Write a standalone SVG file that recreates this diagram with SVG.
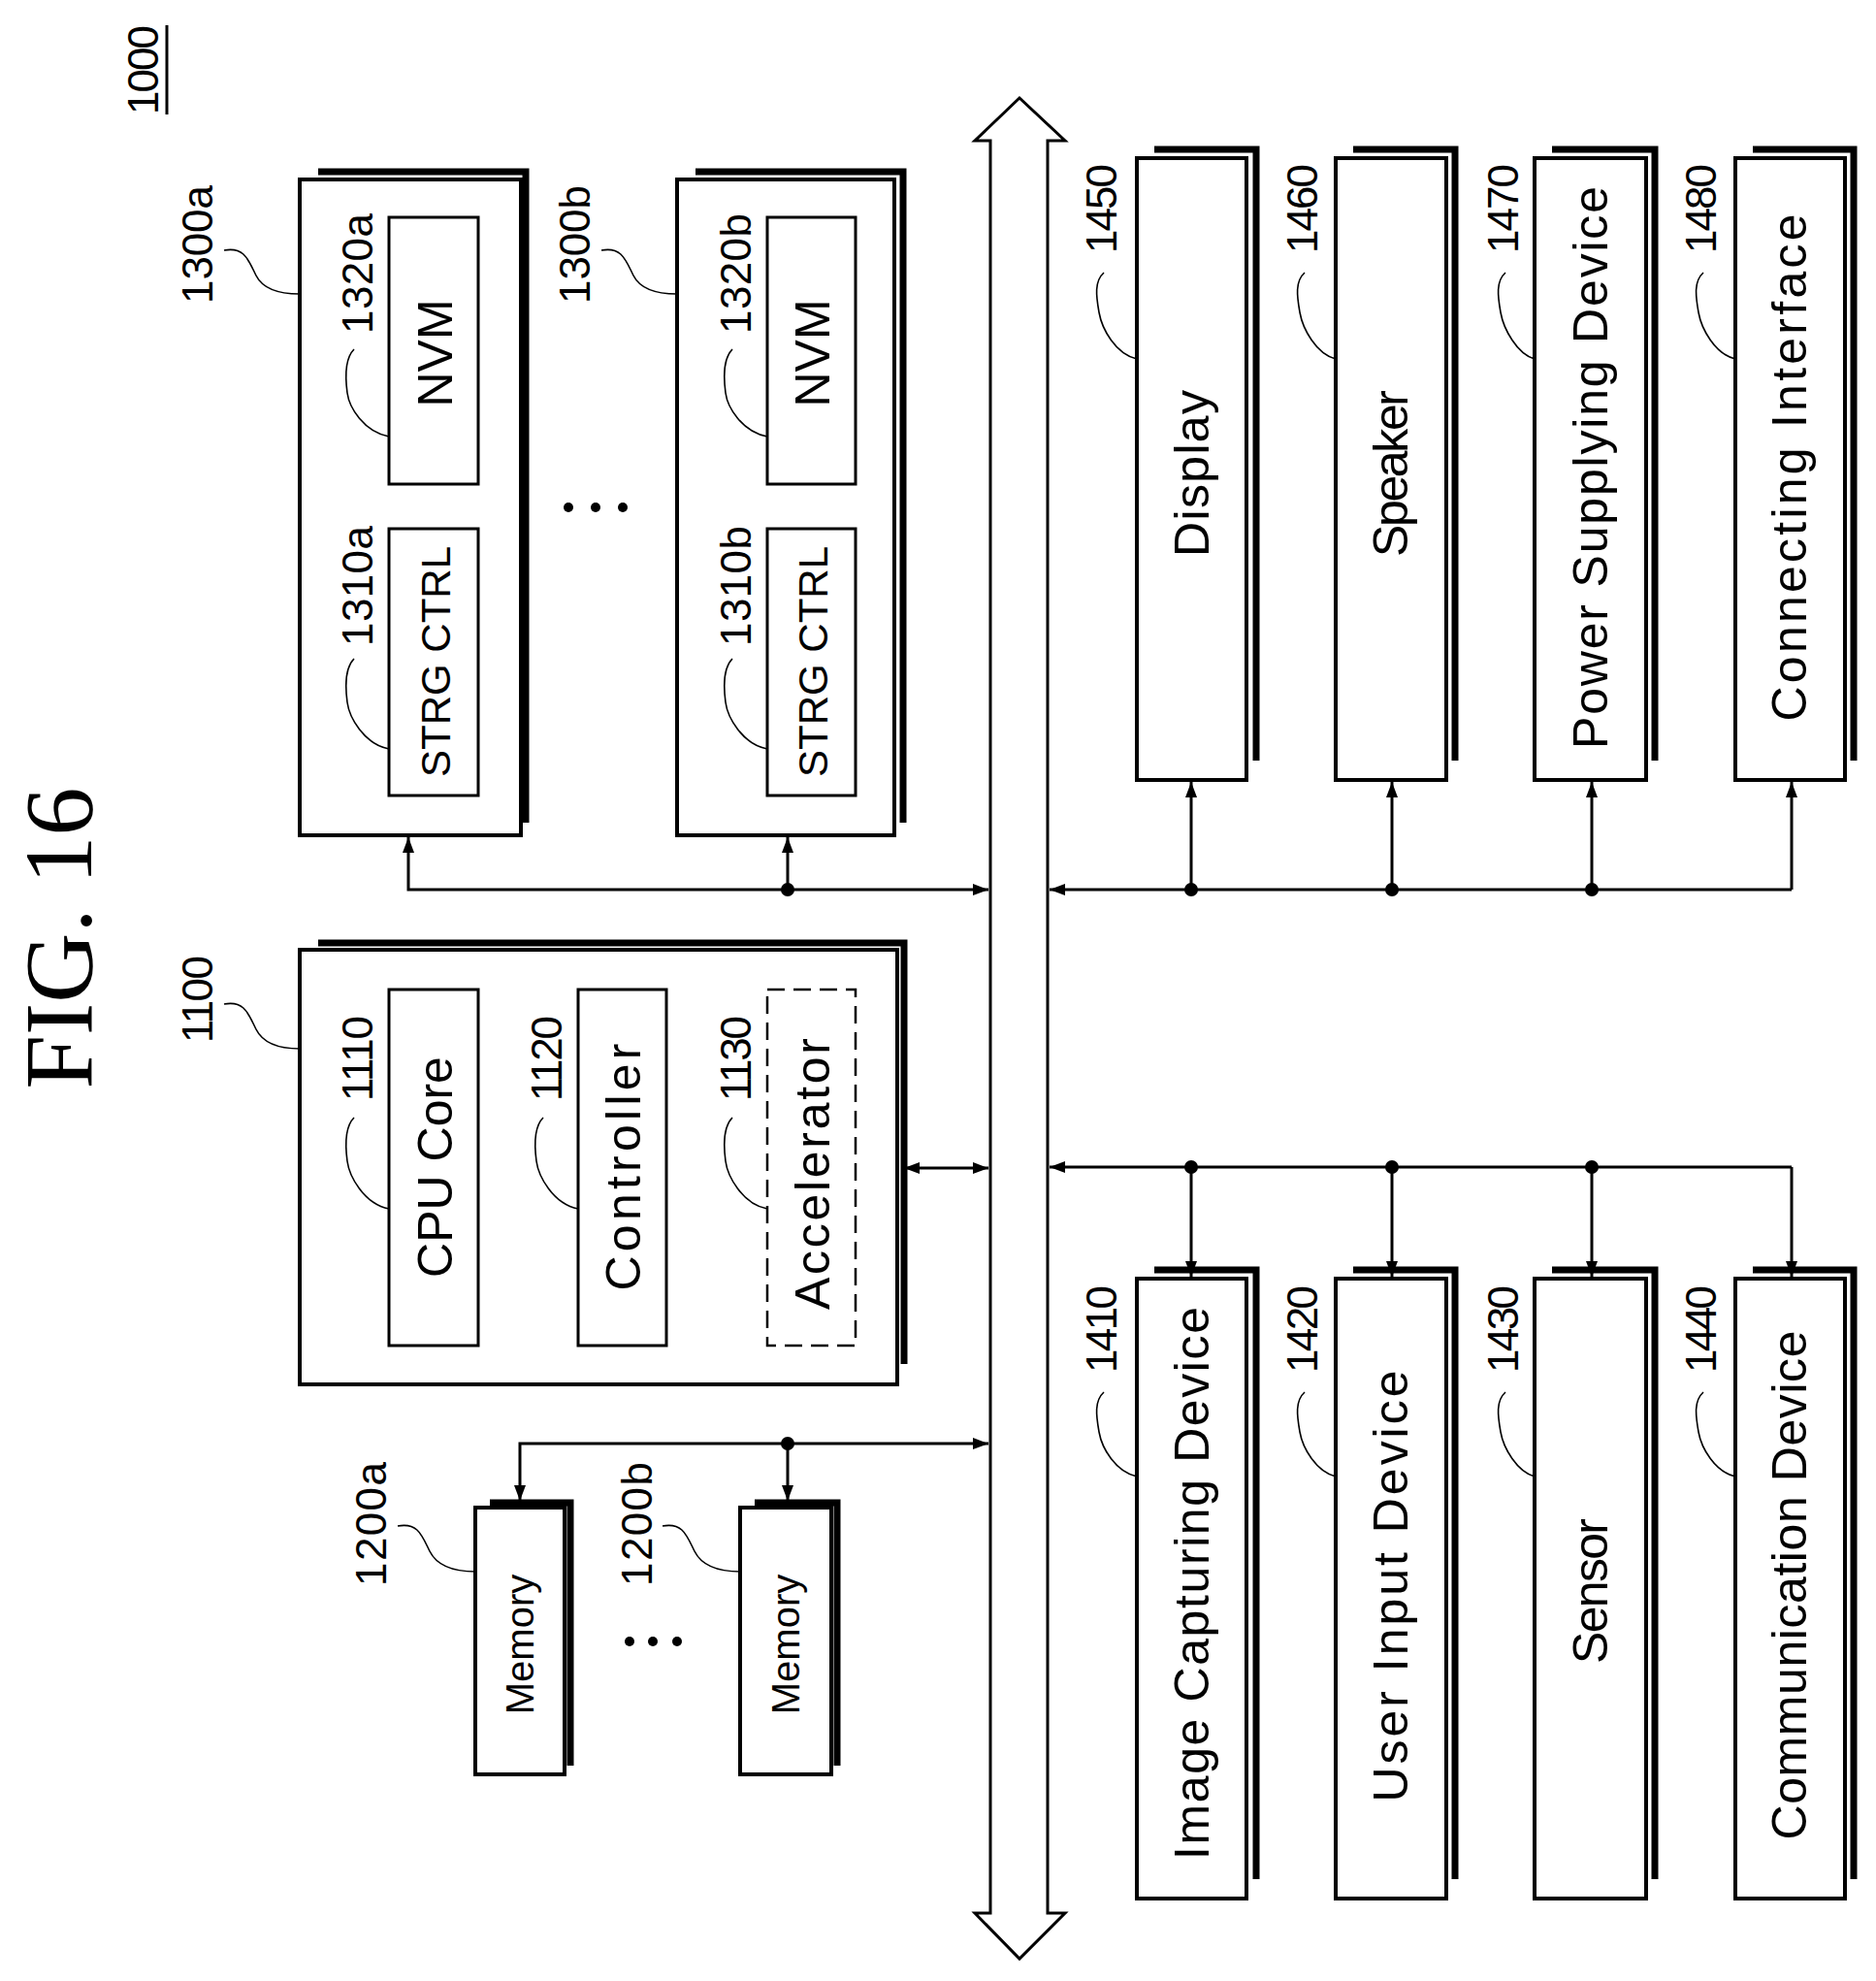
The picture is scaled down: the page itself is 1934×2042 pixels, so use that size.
<svg xmlns="http://www.w3.org/2000/svg" width="1934" height="2042" viewBox="0 0 1934 2042">
<style>
.box{fill:#fff;stroke:#000;stroke-width:4}
.sh{fill:none;stroke:#000;stroke-width:7}
.in{fill:#fff;stroke:#000;stroke-width:3}
.dash{fill:#fff;stroke:#000;stroke-width:2.5;stroke-dasharray:18 9}
.t{font-family:"Liberation Sans",Arial,sans-serif;font-size:50px;text-anchor:middle;dominant-baseline:central}
.n{font-family:"Liberation Sans",Arial,sans-serif;font-size:44px;text-anchor:middle;dominant-baseline:central}
.ld{fill:none;stroke:#000;stroke-width:1.6}
.c{fill:none;stroke:#000;stroke-width:3}
</style>
<defs>
<marker id="a" markerUnits="userSpaceOnUse" markerWidth="16" markerHeight="12" refX="16" refY="6" orient="auto-start-reverse"><path d="M0,0 L16,6 L0,12 z" fill="#000"/></marker>
</defs>
<rect width="1934" height="2042" fill="#fff"/>
<text transform="translate(60,967) rotate(-90)" font-family="'Liberation Serif',serif" font-size="100" text-anchor="middle" dominant-baseline="central">FIG. 16</text>
<g id="label1000"><text class="n" transform="translate(147,72) rotate(-90)" textLength="92">1000</text><line x1="172" y1="26" x2="172" y2="118" stroke="#000" stroke-width="3"/></g>
<g id="bus"><path d="M1021,145 L1005,145 L1051,101 L1098,145 L1080,145 L1080,1972 L1098,1972 L1051,2019 L1005,1972 L1021,1972 Z" fill="#fff" stroke="#000" stroke-width="3"/></g>

<g id="n1300a">
<path class="sh" d="M328,177 H542 V848"/><rect class="box" x="309" y="185" width="228" height="676"/>
<text class="n" transform="translate(203,252) rotate(-90)" textLength="122">1300a</text>
<path class="ld" d="M231,258 C252,254 256,268 264,284 S292,303 309,303"/>
<rect class="in" x="401" y="224" width="92" height="275"/><text class="t" transform="translate(449,364) rotate(-90)">NVM</text>
<text class="n" transform="translate(368,282) rotate(-90)" textLength="124">1320a</text>
<path class="ld" d="M365,360 C355,370 356,390 358,405 S375,445 401,450"/>
<rect class="in" x="401" y="545" width="92" height="275"/><text class="t" transform="translate(449,682) rotate(-90)" style="font-size:42px">STRG CTRL</text>
<text class="n" transform="translate(368,604) rotate(-90)" textLength="124">1310a</text>
<path class="ld" d="M365,679 C355,689 356,709 358,724 S375,767 401,772"/>
</g>
<g id="dots1"><circle cx="586" cy="523" r="5"/><circle cx="614" cy="523" r="5"/><circle cx="642" cy="523" r="5"/></g>
<g id="n1300b">
<path class="sh" d="M717,177 H931 V848"/><rect class="box" x="698" y="185" width="224" height="676"/>
<text class="n" transform="translate(592,252) rotate(-90)" textLength="122">1300b</text>
<path class="ld" d="M620,258 C641,254 645,268 653,284 S681,303 698,303"/>
<rect class="in" x="791" y="224" width="91" height="275"/><text class="t" transform="translate(838,364) rotate(-90)">NVM</text>
<text class="n" transform="translate(758,282) rotate(-90)" textLength="124">1320b</text>
<path class="ld" d="M755,360 C745,370 746,390 748,405 S765,445 791,450"/>
<rect class="in" x="791" y="545" width="91" height="275"/><text class="t" transform="translate(838,682) rotate(-90)" style="font-size:42px">STRG CTRL</text>
<text class="n" transform="translate(758,604) rotate(-90)" textLength="124">1310b</text>
<path class="ld" d="M755,679 C745,689 746,709 748,724 S765,767 791,772"/>
</g>
<g id="n1100">
<path class="sh" d="M328,972 H932 V1406"/><rect class="box" x="309" y="979" width="616" height="448"/>
<text class="n" transform="translate(203,1030) rotate(-90)" textLength="90">1100</text>
<path class="ld" d="M231,1035 C252,1031 256,1045 264,1061 S292,1081 309,1081"/>
<rect class="in" x="401" y="1020" width="92" height="367"/><text class="t" transform="translate(449,1203) rotate(-90)">CPU Core</text>
<text class="n" transform="translate(368,1091) rotate(-90)" textLength="88">1110</text>
<path class="ld" d="M365,1152 C355,1162 356,1182 358,1197 S375,1241 401,1246"/>
<rect class="in" x="596" y="1020" width="91" height="367"/><text class="t" transform="translate(643,1203) rotate(-90)" textLength="255">Controller</text>
<text class="n" transform="translate(563,1091) rotate(-90)" textLength="88">1120</text>
<path class="ld" d="M560,1152 C550,1162 551,1182 553,1197 S570,1241 596,1246"/>
<rect class="dash" x="791" y="1020" width="91" height="367"/><text class="t" transform="translate(838,1210) rotate(-90)" textLength="280">Accelerator</text>
<text class="n" transform="translate(758,1091) rotate(-90)" textLength="88">1130</text>
<path class="ld" d="M755,1152 C745,1162 746,1182 748,1197 S765,1241 791,1246"/>
</g>
<g id="n1200a">
<path class="sh" d="M505,1549 H588 V1820"/><rect class="box" x="490" y="1554" width="92" height="275"/>
<text class="t" transform="translate(536,1695) rotate(-90)" style="font-size:40px">Memory</text>
<text class="n" transform="translate(382,1571) rotate(-90)" textLength="128">1200a</text>
<path class="ld" d="M410,1573 C431,1569 435,1583 443,1599 S471,1620 490,1620"/>
</g>
<g id="dots2"><circle cx="649" cy="1692" r="5"/><circle cx="673" cy="1692" r="5"/><circle cx="698" cy="1692" r="5"/></g>
<g id="n1200b">
<path class="sh" d="M778,1549 H863 V1820"/><rect class="box" x="763" y="1554" width="94" height="275"/>
<text class="t" transform="translate(810,1695) rotate(-90)" style="font-size:40px">Memory</text>
<text class="n" transform="translate(656,1571) rotate(-90)" textLength="128">1200b</text>
<path class="ld" d="M683,1573 C704,1569 708,1583 716,1599 S744,1620 763,1620"/>
</g>

<g id="n1450"><path class="sh" d="M1190,154 H1295 V784"/><rect class="box" x="1172" y="163" width="113" height="641"/>
<text class="t" transform="translate(1229,488) rotate(-90)" textLength="172">Display</text>
<text class="n" transform="translate(1135,215) rotate(-90)" textLength="92">1450</text>
<path class="ld" d="M1138,281 C1128,290 1130,305 1133,322 S1150,365 1172,370"/></g>
<g id="n1460"><path class="sh" d="M1395,154 H1500 V784"/><rect class="box" x="1377" y="163" width="114" height="641"/>
<text class="t" transform="translate(1434,488) rotate(-90)" textLength="172">Speaker</text>
<text class="n" transform="translate(1342,215) rotate(-90)" textLength="92">1460</text>
<path class="ld" d="M1345,281 C1335,290 1337,305 1340,322 S1357,365 1377,370"/></g>
<g id="n1470"><path class="sh" d="M1600,154 H1706 V784"/><rect class="box" x="1582" y="163" width="115" height="641"/>
<text class="t" transform="translate(1640,482) rotate(-90)" textLength="580">Power Supplying Device</text>
<text class="n" transform="translate(1549,215) rotate(-90)" textLength="92">1470</text>
<path class="ld" d="M1552,281 C1542,290 1544,305 1547,322 S1564,365 1582,370"/></g>
<g id="n1480"><path class="sh" d="M1807,154 H1911 V784"/><rect class="box" x="1789" y="163" width="113" height="641"/>
<text class="t" transform="translate(1845,482) rotate(-90)" textLength="523">Connecting Interface</text>
<text class="n" transform="translate(1753,215) rotate(-90)" textLength="92">1480</text>
<path class="ld" d="M1756,281 C1746,290 1748,305 1751,322 S1768,365 1789,370"/></g>

<g id="n1410"><path class="sh" d="M1190,1309 H1295 V1937"/><rect class="box" x="1172" y="1318" width="113" height="639"/>
<text class="t" transform="translate(1229,1632) rotate(-90)" textLength="570">Image Capturing Device</text>
<text class="n" transform="translate(1135,1370) rotate(-90)" textLength="90">1410</text>
<path class="ld" d="M1138,1435 C1128,1444 1130,1459 1133,1476 S1150,1517 1172,1522"/></g>
<g id="n1420"><path class="sh" d="M1395,1309 H1500 V1937"/><rect class="box" x="1377" y="1318" width="114" height="639"/>
<text class="t" transform="translate(1434,1635) rotate(-90)" textLength="445">User Input Device</text>
<text class="n" transform="translate(1342,1370) rotate(-90)" textLength="90">1420</text>
<path class="ld" d="M1345,1435 C1335,1444 1337,1459 1340,1476 S1357,1517 1377,1522"/></g>
<g id="n1430"><path class="sh" d="M1600,1309 H1706 V1937"/><rect class="box" x="1582" y="1318" width="115" height="639"/>
<text class="t" transform="translate(1640,1640) rotate(-90)" textLength="150">Sensor</text>
<text class="n" transform="translate(1549,1370) rotate(-90)" textLength="90">1430</text>
<path class="ld" d="M1552,1435 C1542,1444 1544,1459 1547,1476 S1564,1517 1582,1522"/></g>
<g id="n1440"><path class="sh" d="M1807,1309 H1911 V1937"/><rect class="box" x="1789" y="1318" width="113" height="639"/>
<text class="t" transform="translate(1845,1634) rotate(-90)" textLength="525">Communication Device</text>
<text class="n" transform="translate(1753,1370) rotate(-90)" textLength="90">1440</text>
<path class="ld" d="M1756,1435 C1746,1444 1748,1459 1751,1476 S1768,1517 1789,1522"/></g>

<g id="connectors">
<path class="c" d="M812,917 H421 V863" marker-end="url(#a)"/>
<path class="c" d="M812,917 H1019" marker-end="url(#a)"/>
<path class="c" d="M812,917 V863" marker-end="url(#a)"/>
<circle cx="812" cy="917" r="7"/>
<path class="c" d="M932,1204 H1019" marker-start="url(#a)" marker-end="url(#a)"/>
<path class="c" d="M812,1488 H1019" marker-end="url(#a)"/>
<path class="c" d="M812,1488 H536 V1547" marker-end="url(#a)"/>
<path class="c" d="M812,1488 V1547" marker-end="url(#a)"/>
<circle cx="812" cy="1488" r="7"/>
<path class="c" d="M1847,917 H1082" marker-end="url(#a)"/>
<path class="c" d="M1847,917 V806" marker-end="url(#a)"/>
<path class="c" d="M1228,917 V806" marker-end="url(#a)"/>
<path class="c" d="M1435,917 V806" marker-end="url(#a)"/>
<path class="c" d="M1641,917 V806" marker-end="url(#a)"/>
<circle cx="1228" cy="917" r="7"/><circle cx="1435" cy="917" r="7"/><circle cx="1641" cy="917" r="7"/>
<path class="c" d="M1847,1203 H1082" marker-end="url(#a)"/>
<path class="c" d="M1847,1203 V1316" marker-end="url(#a)"/>
<path class="c" d="M1228,1203 V1316" marker-end="url(#a)"/>
<path class="c" d="M1435,1203 V1316" marker-end="url(#a)"/>
<path class="c" d="M1641,1203 V1316" marker-end="url(#a)"/>
<circle cx="1228" cy="1203" r="7"/><circle cx="1435" cy="1203" r="7"/><circle cx="1641" cy="1203" r="7"/>
</g>
</svg>
